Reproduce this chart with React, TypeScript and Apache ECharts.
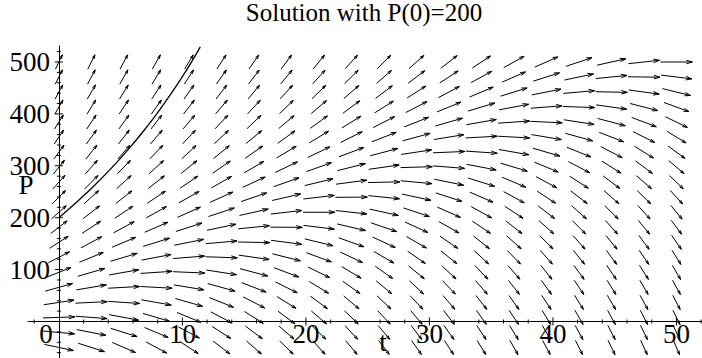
import React, { useEffect, useRef } from "react";
import * as echarts from "echarts";

// Direction-field grid (t columns, P rows from top to bottom)
const tGrid = [0, 2.63, 5.26, 7.89, 10.53, 13.16, 15.79, 18.42, 21.05, 23.68, 26.32, 28.95, 31.58, 34.21, 36.84, 39.47, 42.11, 44.74, 47.37, 50];
const pGrid = [500, 471.1, 442.1, 413.2, 384.2, 355.3, 326.3, 297.4, 268.4, 239.5, 210.5, 181.6, 152.6, 123.7, 94.7, 65.8, 36.8, 7.9, -21.1, -50];

// slope dP/dt of each arrow; row k <-> pGrid[k], column i <-> tGrid[i]
const slopes: number[][] = [
  [50.0, 47.4, 44.7, 42.1, 39.5, 36.8, 34.2, 31.6, 28.9, 26.3, 23.7, 21.0, 18.4, 15.8, 13.2, 10.5, 7.9, 5.3, 2.6, 0.0],
  [47.1, 44.5, 41.8, 39.2, 36.6, 33.9, 31.3, 28.7, 26.0, 23.4, 20.8, 18.1, 15.5, 12.9, 10.3, 7.6, 5.0, 2.4, -0.3, -2.9],
  [44.2, 41.6, 38.9, 36.3, 33.7, 31.0, 28.4, 25.8, 23.1, 20.5, 17.9, 15.2, 12.6, 10.0, 7.4, 4.7, 2.1, -0.5, -3.2, -5.8],
  [41.3, 38.7, 36.0, 33.4, 30.8, 28.1, 25.5, 22.9, 20.2, 17.6, 15.0, 12.3, 9.7, 7.1, 4.5, 1.8, -0.8, -3.4, -6.1, -8.7],
  [38.4, 35.8, 33.1, 30.5, 27.9, 25.2, 22.6, 20.0, 17.3, 14.7, 12.1, 9.4, 6.8, 4.2, 1.6, -1.1, -3.7, -6.3, -9.0, -11.6],
  [35.5, 32.9, 30.2, 27.6, 25.0, 22.3, 19.7, 17.1, 14.4, 11.8, 9.2, 6.5, 3.9, 1.3, -1.3, -4.0, -6.6, -9.2, -11.9, -14.5],
  [32.6, 30.0, 27.3, 24.7, 22.1, 19.4, 16.8, 14.2, 11.5, 8.9, 6.3, 3.6, 1.0, -1.6, -4.2, -6.9, -9.5, -12.1, -14.8, -17.4],
  [29.7, 27.1, 24.4, 21.8, 19.2, 16.5, 13.9, 11.3, 8.6, 6.0, 3.4, 0.7, -1.9, -4.5, -7.1, -9.8, -12.4, -15.0, -17.7, -20.3],
  [26.8, 24.2, 21.5, 18.9, 16.3, 13.6, 11.0, 8.4, 5.7, 3.1, 0.5, -2.2, -4.8, -7.4, -10.0, -12.7, -15.3, -17.9, -20.6, -23.2],
  [23.9, 21.3, 18.6, 16.0, 13.4, 10.7, 8.1, 5.5, 2.8, 0.2, -2.4, -5.1, -7.7, -10.3, -12.9, -15.6, -18.2, -20.8, -23.5, -26.1],
  [21.1, 18.5, 15.8, 13.2, 10.6, 7.9, 5.3, 2.7, 0.0, -2.6, -5.2, -7.9, -10.5, -13.1, -15.7, -18.4, -21.0, -23.6, -26.3, -28.9],
  [18.2, 15.6, 12.9, 10.3, 7.7, 5.0, 2.4, -0.2, -2.9, -5.5, -8.1, -10.8, -13.4, -16.0, -18.6, -21.3, -23.9, -26.5, -29.2, -31.8],
  [15.3, 12.7, 10.0, 7.4, 4.8, 2.1, -0.5, -3.1, -5.8, -8.4, -11.0, -13.7, -16.3, -18.9, -21.5, -24.2, -26.8, -29.4, -32.1, -34.7],
  [12.4, 9.8, 7.1, 4.5, 1.9, -0.8, -3.4, -6.0, -8.7, -11.3, -13.9, -16.6, -19.2, -21.8, -24.4, -27.1, -29.7, -32.3, -35.0, -37.6],
  [9.5, 6.9, 4.2, 1.6, -1.0, -3.7, -6.3, -8.9, -11.6, -14.2, -16.8, -19.5, -22.1, -24.7, -27.3, -30.0, -32.6, -35.2, -37.9, -40.5],
  [6.6, 4.0, 1.3, -1.3, -3.9, -6.6, -9.2, -11.8, -14.5, -17.1, -19.7, -22.4, -25.0, -27.6, -30.2, -32.9, -35.5, -38.1, -40.8, -43.4],
  [3.7, 1.1, -1.6, -4.2, -6.8, -9.5, -12.1, -14.7, -17.4, -20.0, -22.6, -25.3, -27.9, -30.5, -33.1, -35.8, -38.4, -41.0, -43.7, -46.3],
  [0.8, -1.8, -4.5, -7.1, -9.7, -12.4, -15.0, -17.6, -20.3, -22.9, -25.5, -28.2, -30.8, -33.4, -36.0, -38.7, -41.3, -43.9, -46.6, -49.2],
  [-2.1, -4.7, -7.4, -10.0, -12.6, -15.3, -17.9, -20.5, -23.2, -25.8, -28.4, -31.1, -33.7, -36.3, -38.9, -41.6, -44.2, -46.8, -49.5, -52.1],
  [-5.0, -7.6, -10.3, -12.9, -15.5, -18.2, -20.8, -23.4, -26.1, -28.7, -31.3, -34.0, -36.6, -39.2, -41.8, -44.5, -47.1, -49.7, -52.4, -55.0],
];

// Solution curve with P(0)=200
const solT = [0, 1, 2, 3, 4, 5, 6, 7, 8, 9, 10, 11, 11.45];
const solP = [200, 220.5, 242.1, 265.0, 289.2, 314.9, 342.2, 371.4, 402.6, 436.0, 471.8, 510.4, 529];

// Axis ticks and labels
const xLabels = [0, 10, 20, 30, 40, 50];
const yLabels = [100, 200, 300, 400, 500];
const xMajorTicks = [10, 20, 30, 40, 50];
const xMinorTicks = [-2, 2, 4, 6, 8, 12, 14, 16, 18, 22, 24, 26, 28, 32, 34, 36, 38, 42, 44, 46, 48, 52];
const yMajorTicks = [100, 200, 300, 400, 500];
const yMinorTicks = [-60, -40, -20, 20, 40, 60, 80, 120, 140, 160, 180, 220, 240, 260, 280, 320, 340, 360, 380, 420, 440, 460, 480, 520];

const FONT = "Liberation Serif";

export default function App() {
  const ref = useRef<HTMLDivElement>(null);
  useEffect(() => {
    if (!ref.current) return;
    const chart = echarts.init(ref.current, null, { renderer: "svg" });

    const cellT = (tGrid[tGrid.length - 1] - tGrid[0]) / (tGrid.length - 1);
    const cellP = (pGrid[0] - pGrid[pGrid.length - 1]) / (pGrid.length - 1);

    const arrowData: number[][] = [];
    pGrid.forEach((p, k) => {
      tGrid.forEach((t, i) => {
        arrowData.push([t, p, slopes[k][i]]);
      });
    });

    const tickData: number[][] = [];
    xMajorTicks.forEach((v) => tickData.push([0, v, 1]));
    xMinorTicks.forEach((v) => tickData.push([0, v, 0]));
    yMajorTicks.forEach((v) => tickData.push([1, v, 1]));
    yMinorTicks.forEach((v) => tickData.push([1, v, 0]));

    const textStyle = (text: string, size: number, lineHeight: number) => ({
      text,
      fontFamily: FONT,
      fontSize: size,
      lineHeight,
      fill: "#000",
      textAlign: "center",
      textVerticalAlign: "middle",
    });

    const option: any = {
      animation: false,
      backgroundColor: "#fff",
      grid: { left: 28, top: 46, width: 674, height: 312, containLabel: false, outerBoundsMode: "none" },
      xAxis: {
        type: "value",
        min: -2.5,
        max: 52.07,
        axisLine: { show: true, onZero: true, lineStyle: { color: "#000", width: 1 } },
        axisTick: { show: false },
        splitLine: { show: false },
        axisLabel: {
          customValues: xLabels,
          color: "#000",
          fontFamily: FONT,
          fontSize: 27,
          lineHeight: 22,
          margin: -35,
          formatter: (v: number) => (v === 0 ? "{z|0}" : String(v)),
          rich: { z: { padding: [0, 26, 0, 0], fontFamily: FONT, fontSize: 27, lineHeight: 22, color: "#000" } },
        },
      },
      yAxis: {
        type: "value",
        min: -70.3,
        max: 530.8,
        axisLine: { show: true, onZero: true, lineStyle: { color: "#000", width: 1 } },
        axisTick: { show: false },
        splitLine: { show: false },
        axisLabel: {
          customValues: yLabels,
          color: "#000",
          fontFamily: FONT,
          fontSize: 27,
          lineHeight: 18,
          margin: -22,
        },
      },
      graphic: [
        { type: "text", x: 364, y: 12.5, style: textStyle("Solution with P(0)=200", 25, 25) },
        { type: "text", x: 26, y: 185, style: textStyle("P", 27, 18) },
        { type: "text", x: 383, y: 342, style: textStyle("t", 27, 18) },
      ],
      series: [
        {
          type: "custom",
          name: "ticks",
          clip: false,
          data: tickData,
          renderItem: (_params: any, api: any) => {
            const axis = api.value(0);
            const v = api.value(1);
            const major = api.value(2) === 1;
            const half = major ? 4 : 2;
            if (axis === 0) {
              const c = api.coord([v, 0]);
              return { type: "line", shape: { x1: c[0], y1: c[1] - half, x2: c[0], y2: c[1] + half }, style: { stroke: "#000", lineWidth: 1 } };
            }
            const c = api.coord([0, v]);
            return { type: "line", shape: { x1: c[0] - half, y1: c[1], x2: c[0] + half, y2: c[1] }, style: { stroke: "#000", lineWidth: 1 } };
          },
        },
        {
          type: "custom",
          name: "field",
          clip: false,
          data: arrowData,
          renderItem: (_params: any, api: any) => {
            const t = api.value(0);
            const p = api.value(1);
            const f = api.value(2);
            const c = api.coord([t, p]);
            const s = api.size([1, 1]);
            let u = 1 / cellT;
            let w = f / cellP;
            const n = Math.hypot(u, w);
            const frac = 0.98;
            u = (u / n) * frac;
            w = (w / n) * frac;
            const dx = u * cellT * s[0];
            const dy = -w * cellP * s[1];
            const x0 = c[0] - dx / 2;
            const y0 = c[1] - dy / 2;
            const x1 = c[0] + dx / 2;
            const y1 = c[1] + dy / 2;
            const len = Math.hypot(dx, dy);
            const ux = dx / len;
            const uy = dy / len;
            const h = Math.min(6, Math.max(4, len * 0.2));
            const hw = h * 0.3;
            const bx = x1 - ux * h;
            const by = y1 - uy * h;
            return {
              type: "group",
              children: [
                { type: "line", shape: { x1: x0, y1: y0, x2: x1, y2: y1 }, style: { stroke: "#000", lineWidth: 1 } },
                {
                  type: "polyline",
                  shape: { points: [[bx - uy * hw, by + ux * hw], [x1, y1], [bx + uy * hw, by - ux * hw]] },
                  style: { stroke: "#000", fill: null, lineWidth: 1 },
                },
              ],
            };
          },
        },
        {
          type: "line",
          name: "solution",
          data: solT.map((t, i) => [t, solP[i]]),
          showSymbol: false,
          smooth: true,
          clip: false,
          lineStyle: { color: "#000", width: 1.3 },
        },
      ],
    };

    chart.setOption(option);
    return () => chart.dispose();
  }, []);

  return <div ref={ref} style={{ position: "fixed", left: 0, top: 0, width: 702, height: 358 }} />;
}
